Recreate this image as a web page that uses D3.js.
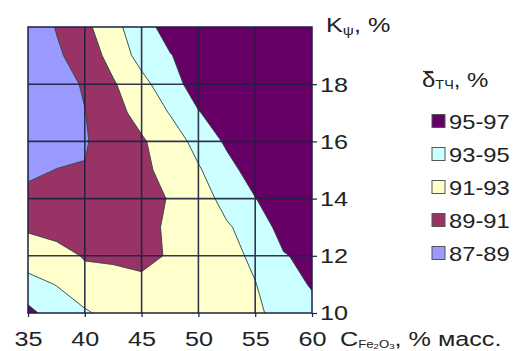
<!DOCTYPE html>
<html>
<head>
<meta charset="utf-8">
<script src="https://cdn.jsdelivr.net/npm/d3@7"></script>
<style>
  body { margin: 0; background: #fff; }
  text { font-family: "Liberation Sans", Arial, sans-serif; fill: #222; }
</style>
</head>
<body>
<svg id="chart" width="527" height="351"></svg>
<script>
// Fe2O3 content, % mass (columns) and K_psi, % (rows, top to bottom)
const cFe2O3 = [35, 37.5, 40, 42.5, 45, 47.5, 50, 52.5, 55, 57.5, 60];
const kPsi = [20, 19, 18, 17, 16, 15, 14, 13, 12, 11, 10];

// delta_tch, %, one row per kPsi value
const deltaRows = [
  [87.5, 89.1, 90.5, 92.4, 94.2, 95.8, 96.3, 96.6, 96.8, 96.9, 96.9],
  [87.6, 88.7, 89.9, 91.7, 93.7, 94.9, 96.0, 96.4, 96.7, 96.8, 96.9],
  [87.7, 88.2, 89.2, 90.8, 92.4, 94.2, 95.9, 96.3, 96.6, 96.8, 96.9],
  [87.8, 88.1, 88.95, 90.4, 91.6, 93.1, 94.9, 96.0, 96.5, 96.7, 96.9],
  [87.8, 88.0, 88.9, 89.6, 90.8, 91.9, 93.7, 95.3, 96.2, 96.6, 96.8],
  [88.5, 89.05, 89.05, 89.8, 90.6, 91.6, 92.8, 94.4, 95.8, 96.4, 96.7],
  [89.7, 90.0, 90.1, 90.3, 90.7, 91.05, 92.3, 93.5, 94.95, 96.2, 96.6],
  [90.7, 90.5, 90.2, 90.3, 90.6, 91.2, 92.3, 92.85, 93.6, 95.9, 96.4],
  [92.2, 91.5, 90.9, 90.6, 90.7, 91.1, 91.9, 92.5, 93.3, 94.85, 95.6],
  [93.53, 92.95, 91.46, 91.9, 91.24, 91.6, 92.2, 92.6, 92.95, 94.0, 95.2],
  [95.6, 93.93, 93.3, 92.2, 91.9, 92.0, 92.2, 92.5, 92.85, 93.3, 94.3]
];

const thresholds = [87, 89, 91, 93, 95];
const bandColors = ["#9999ff", "#993366", "#ffffcc", "#ccffff", "#660066"];
const bandLabels = ["87-89", "89-91", "91-93", "93-95", "95-97"];
const xTicks = [35, 40, 45, 50, 55, 60];
const yTicks = [10, 12, 14, 16, 18];

const svg = d3.select("#chart");
const plotL = 28, plotR = 312, plotT = 27, plotB = 313;

const x = d3.scaleLinear().domain([35, 60]).range([plotL, plotR]);
const y = d3.scaleLinear().domain([10, 20]).range([plotB, plotT]);

const nx = cFe2O3.length, ny = kPsi.length;
const xStep = cFe2O3[1] - cFe2O3[0];
const yStep = kPsi[0] - kPsi[1];

svg.append("clipPath").attr("id", "plot-clip")
  .append("rect")
  .attr("x", plotL).attr("y", plotT)
  .attr("width", plotR - plotL).attr("height", plotB - plotT);

// contour grid -> chart coords (grid sample i sits at i + 0.5)
const toPlot = d3.geoTransform({
  point: function(gx, gy) {
    this.stream.point(
      x(cFe2O3[0] + (gx - 0.5) * xStep),
      y(kPsi[0] - (gy - 0.5) * yStep)
    );
  }
});
const path = d3.geoPath(toPlot);

const contours = d3.contours()
  .size([nx, ny])
  .thresholds(thresholds)(deltaRows.flat());

svg.append("g")
  .attr("clip-path", "url(#plot-clip)")
  .selectAll("path")
  .data(contours)
  .join("path")
  .attr("d", path)
  .attr("fill", (d, i) => bandColors[i])
  .attr("stroke", "#2d4444")
  .attr("stroke-width", 0.9)
  .attr("stroke-linejoin", "round");

// grid
const grid = svg.append("g").attr("stroke", "#1c2240").attr("stroke-width", 1.6).attr("opacity", 0.9);
grid.selectAll(".gx")
  .data(xTicks.slice(1, -1))
  .join("line")
  .attr("x1", d => x(d)).attr("x2", d => x(d))
  .attr("y1", plotT).attr("y2", plotB);
grid.selectAll(".gy")
  .data(yTicks.slice(1))
  .join("line")
  .attr("x1", plotL).attr("x2", plotR)
  .attr("y1", d => y(d)).attr("y2", d => y(d));

svg.append("rect")
  .attr("x", plotL).attr("y", plotT)
  .attr("width", plotR - plotL).attr("height", plotB - plotT)
  .attr("fill", "none")
  .attr("stroke", "#1c2240")
  .attr("stroke-width", 1.5);

// axes
const xAxis = svg.append("g")
  .attr("transform", `translate(0,${plotB})`)
  .call(d3.axisBottom(x).tickValues(xTicks).tickSize(4).tickSizeOuter(0));
xAxis.select(".domain").remove();
xAxis.selectAll("line").attr("stroke", "#1c2240").attr("stroke-width", 1.2);
xAxis.selectAll("text")
  .attr("y", 33).attr("dy", null)
  .attr("font-size", 21)
  .attr("transform", "scale(1.2,1)");

const yAxis = svg.append("g")
  .attr("transform", `translate(${plotR},0)`)
  .call(d3.axisRight(y).tickValues(yTicks).tickSize(5).tickSizeOuter(0));
yAxis.select(".domain").remove();
yAxis.selectAll("line").attr("stroke", "#1c2240").attr("stroke-width", 1.2);
yAxis.selectAll("text")
  .attr("x", 8 / 1.2)
  .attr("dy", "0.33em")
  .attr("font-size", 21)
  .attr("transform", "scale(1.2,1)");

// axis titles
const yTitle = svg.append("text")
  .attr("transform", "translate(326,32) scale(1.2,1)")
  .attr("font-size", 21);
yTitle.append("tspan").text("K");
yTitle.append("tspan").attr("font-size", 13).attr("dy", 3).text("ψ");
yTitle.append("tspan").attr("dy", -3).text(", %");

const xTitle = svg.append("text")
  .attr("transform", "translate(340,346) scale(1.2,1)")
  .attr("font-size", 21);
xTitle.append("tspan").text("C");
xTitle.append("tspan").attr("font-size", 11).attr("dy", 2).text("Fe");
xTitle.append("tspan").attr("font-size", 8).attr("dy", 1).text("2");
xTitle.append("tspan").attr("font-size", 11).attr("dy", -1).text("O");
xTitle.append("tspan").attr("font-size", 8).attr("dy", 1).text("3");
xTitle.append("tspan").attr("dy", -3).text(", % масс.");

// legend
const legend = svg.append("g");
const legTitle = legend.append("text")
  .attr("transform", "translate(422,87) scale(1.2,1)")
  .attr("font-size", 20);
legTitle.append("tspan").text("δ");
legTitle.append("tspan").attr("font-size", 12).attr("dy", 2).text("ТЧ");
legTitle.append("tspan").attr("dy", -2).text(", %");
legend.append("line")
  .attr("x1", 423).attr("x2", 433)
  .attr("y1", 71.5).attr("y2", 71.5)
  .attr("stroke", "#333").attr("stroke-width", 1.2);

const legendOrder = d3.range(thresholds.length).reverse();
const item = legend.selectAll(".item")
  .data(legendOrder)
  .join("g")
  .attr("transform", (d, i) => `translate(432,${121 + i * 33})`);
item.append("rect")
  .attr("x", 0).attr("y", -6.5)
  .attr("width", 13).attr("height", 13)
  .attr("fill", d => bandColors[d])
  .attr("stroke", "#555")
  .attr("stroke-width", 1);
item.append("text")
  .attr("transform", "translate(17,7.5) scale(1.13,1)")
  .attr("font-size", 21)
  .text(d => bandLabels[d]);
</script>
</body>
</html>
